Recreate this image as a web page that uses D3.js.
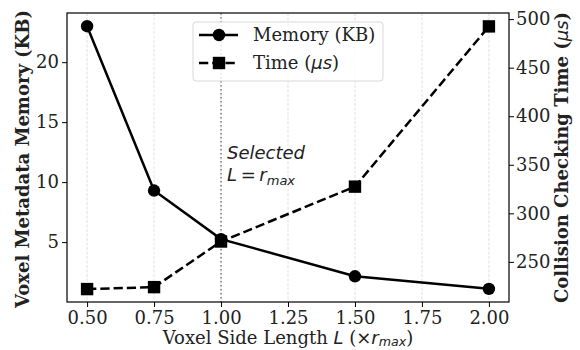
<!DOCTYPE html>
<html><head><meta charset="utf-8">
<script src="https://cdn.jsdelivr.net/npm/d3@7"></script>
<style>body{margin:0;background:#fff}</style>
</head><body>
<svg id="c" width="580" height="350"></svg>
<script>
const lengths = [0.5, 0.75, 1.0, 1.5, 2.0];
const memoryKB = [23.0, 9.3, 5.25, 2.15, 1.1];
const timeUs = [222, 224, 271, 327.5, 492.5];
const xTicks = [0.5, 0.75, 1.0, 1.25, 1.5, 1.75, 2.0];
const memTicks = [5, 10, 15, 20];
const timeTicks = [250, 300, 350, 400, 450, 500];

const svg = d3.select("#c");
const L = 67, R = 509, T = 13, B = 302;
const serif = "DejaVu Serif";
const sans = "DejaVu Sans";

const x = d3.scaleLinear().domain([0.425, 2.075]).range([L, R]);
const yM = d3.scaleLinear().domain([0.005, 24.1]).range([B, T]);
const yT = d3.scaleLinear().domain([208.7, 506.3]).range([B, T]);

// grid
svg.append("g").selectAll("line").data(xTicks).join("line")
  .attr("x1", d => x(d)).attr("x2", d => x(d)).attr("y1", T).attr("y2", B)
  .attr("stroke", "#d9d9d9").attr("stroke-width", 0.8).attr("stroke-dasharray", "3,1.5");

// selected line
svg.append("line").attr("x1", x(1)).attr("x2", x(1)).attr("y1", T).attr("y2", B)
  .attr("stroke", "#808080").attr("stroke-width", 1.5).attr("stroke-dasharray", "1.5,2.5");

// selected text
const sfs = 18;
svg.append("text").attr("x", 227).attr("y", 159)
  .attr("font-family", sans).attr("font-style", "italic").attr("font-size", sfs).attr("fill", "#222")
  .text("Selected");
const st2 = svg.append("text").attr("x", 227).attr("y", 181)
  .attr("font-family", sans).attr("font-style", "italic").attr("font-size", sfs).attr("fill", "#222");
st2.append("tspan").text("L");
st2.append("tspan").attr("font-style", "normal").text("\u2009=\u2009");
st2.append("tspan").text("r");
st2.append("tspan").attr("font-size", 13).attr("dy", 3.5).text("max");

// memory series
const lineM = d3.line().x((d, i) => x(lengths[i])).y(d => yM(d));
svg.append("path").datum(memoryKB).attr("d", lineM).attr("fill", "none")
  .attr("stroke", "#000").attr("stroke-width", 2.5);
svg.append("g").selectAll("circle").data(memoryKB).join("circle")
  .attr("cx", (d, i) => x(lengths[i])).attr("cy", d => yM(d)).attr("r", 6.2).attr("fill", "#000");

// time series
const lineT = d3.line().x((d, i) => x(lengths[i])).y(d => yT(d));
svg.append("path").datum(timeUs).attr("d", lineT).attr("fill", "none")
  .attr("stroke", "#000").attr("stroke-width", 2.5).attr("stroke-dasharray", "9.25,4");
svg.append("g").selectAll("rect").data(timeUs).join("rect")
  .attr("x", (d, i) => x(lengths[i]) - 6.2).attr("y", d => yT(d) - 6.2)
  .attr("width", 12.4).attr("height", 12.4).attr("fill", "#000");

// axes
const fs = 18;
const lfs = 18;
const ax = svg.append("g").attr("transform", `translate(0,${B})`)
  .call(d3.axisBottom(x).tickValues(xTicks).tickFormat(d3.format(".2f")).tickSize(5).tickPadding(4));
const ayl = svg.append("g").attr("transform", `translate(${L},0)`)
  .call(d3.axisLeft(yM).tickValues(memTicks).tickFormat(d3.format("d")).tickSize(5).tickPadding(3));
const ayr = svg.append("g").attr("transform", `translate(${R},0)`)
  .call(d3.axisRight(yT).tickValues(timeTicks).tickFormat(d3.format("d")).tickSize(5).tickPadding(2));
[ax, ayl, ayr].forEach(g => {
  g.select(".domain").remove();
  g.selectAll("line").attr("stroke", "#000").attr("stroke-width", 1);
  g.selectAll("text").attr("font-family", serif).attr("font-size", fs).attr("fill", "#222");
});
ax.selectAll("text").attr("y", 21.5).attr("dy", 0);
// frame
svg.append("rect").attr("x", L).attr("y", T).attr("width", R - L).attr("height", B - T)
  .attr("fill", "none").attr("stroke", "#000").attr("stroke-width", 1.2);

// x label
const xl = svg.append("text").attr("x", (L + R) / 2).attr("y", 343.5).attr("text-anchor", "middle")
  .attr("font-family", serif).attr("font-size", lfs).attr("fill", "#222");
xl.append("tspan").text("Voxel Side Length ");
xl.append("tspan").attr("font-family", sans).attr("font-style", "italic").text("L");
xl.append("tspan").text(" (");
xl.append("tspan").attr("font-family", sans).text("×");
xl.append("tspan").attr("font-family", sans).attr("font-style", "italic").text("r");
xl.append("tspan").attr("font-family", sans).attr("font-style", "italic").attr("font-size", 12.6).attr("dy", 2.5).text("max");
xl.append("tspan").attr("dy", -2.5).text(")");

// left y label
svg.append("text").attr("transform", `translate(29,159) rotate(-90)`)
  .attr("text-anchor", "middle").attr("font-family", serif).attr("font-weight", "bold")
  .attr("font-size", lfs).attr("fill", "#222").text("Voxel Metadata Memory (KB)");

// right y label
const yr = svg.append("text").attr("transform", `translate(568,157.5) rotate(-90)`)
  .attr("text-anchor", "middle").attr("font-family", serif).attr("font-weight", "bold")
  .attr("font-size", lfs).attr("fill", "#222");
yr.append("tspan").text("Collision Checking Time (");
yr.append("tspan").attr("font-family", sans).attr("font-style", "italic").attr("font-weight", "normal").text("μs");
yr.append("tspan").text(")");

// legend
const lg = svg.append("g");
lg.append("rect").attr("x", 193).attr("y", 22).attr("width", 190).attr("height", 59).attr("rx", 3)
  .attr("fill", "#fff").attr("fill-opacity", 0.8).attr("stroke", "#d9d9d9").attr("stroke-width", 1);
const r1 = 35, r2 = 63;
lg.append("line").attr("x1", 199).attr("x2", 238).attr("y1", r1).attr("y2", r1)
  .attr("stroke", "#000").attr("stroke-width", 2.5);
lg.append("circle").attr("cx", 219).attr("cy", r1).attr("r", 6.2).attr("fill", "#000");
lg.append("line").attr("x1", 199).attr("x2", 238).attr("y1", r2).attr("y2", r2)
  .attr("stroke", "#000").attr("stroke-width", 2.5).attr("stroke-dasharray", "9.25,4");
lg.append("rect").attr("x", 219 - 6.2).attr("y", r2 - 6.2).attr("width", 12.4).attr("height", 12.4).attr("fill", "#000");
const gfs = 18;
lg.append("text").attr("x", 253).attr("y", r1 + 6).attr("font-family", serif).attr("font-size", gfs)
  .attr("fill", "#222").text("Memory (KB)");
const t2 = lg.append("text").attr("x", 253).attr("y", r2 + 6).attr("font-family", serif).attr("font-size", gfs).attr("fill", "#222");
t2.append("tspan").text("Time (");
t2.append("tspan").attr("font-family", sans).attr("font-style", "italic").text("μs");
t2.append("tspan").text(")");
</script>
</body></html>
